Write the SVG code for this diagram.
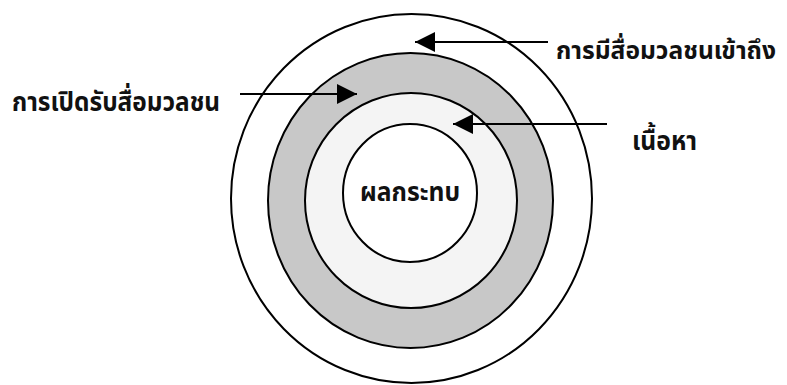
<svg xmlns="http://www.w3.org/2000/svg" width="787" height="385" viewBox="0 0 787 385">
<style>
.c{stroke:#000;stroke-width:2}
.t{font-family:"Noto Sans Thai","Noto Sans","Noto Serif Thai",sans-serif;font-size:27px;font-weight:bold;fill:#111}
.a{stroke:#000;stroke-width:2;fill:none}
</style>
<defs>
<marker id="ah" viewBox="0 0 20 20" refX="20" refY="10" markerWidth="20" markerHeight="20" markerUnits="userSpaceOnUse" orient="auto">
<path d="M0,0 L20,10 L0,20 Z" fill="#000"/>
</marker>
</defs>
<rect width="787" height="385" fill="#fff"/>
<g id="ring-access"><ellipse class="c" cx="411.5" cy="198.5" rx="180.5" ry="184.5" fill="#fff"/></g>
<g id="ring-exposure"><ellipse class="c" cx="410.5" cy="200.5" rx="142.5" ry="147.5" fill="#c8c8c8"/></g>
<g id="ring-content"><ellipse class="c" cx="411" cy="200.5" rx="106" ry="107.5" fill="#f4f4f4"/></g>
<g id="core"><ellipse class="c" cx="410" cy="193" rx="67" ry="69" fill="#fff"/>
<text class="t" x="360" y="201" textLength="100" lengthAdjust="spacingAndGlyphs">ผลกระทบ</text></g>
<g id="label-access"><text class="t" x="556" y="59" style="font-size:25px" textLength="220" lengthAdjust="spacingAndGlyphs">การมีสื่อมวลชนเข้าถึง</text></g>
<g id="label-exposure"><text class="t" x="12" y="111" textLength="208" lengthAdjust="spacingAndGlyphs">การเปิดรับสื่อมวลชน</text></g>
<g id="label-content"><text class="t" x="632" y="150" textLength="65" lengthAdjust="spacingAndGlyphs">เนื้อหา</text></g>
<g id="connectors">
<line class="a" x1="548" y1="42" x2="415" y2="42" marker-end="url(#ah)"/>
<line class="a" x1="240" y1="94" x2="357" y2="94" marker-end="url(#ah)"/>
<line class="a" x1="607" y1="124" x2="453" y2="124" marker-end="url(#ah)"/>
</g>
</svg>
